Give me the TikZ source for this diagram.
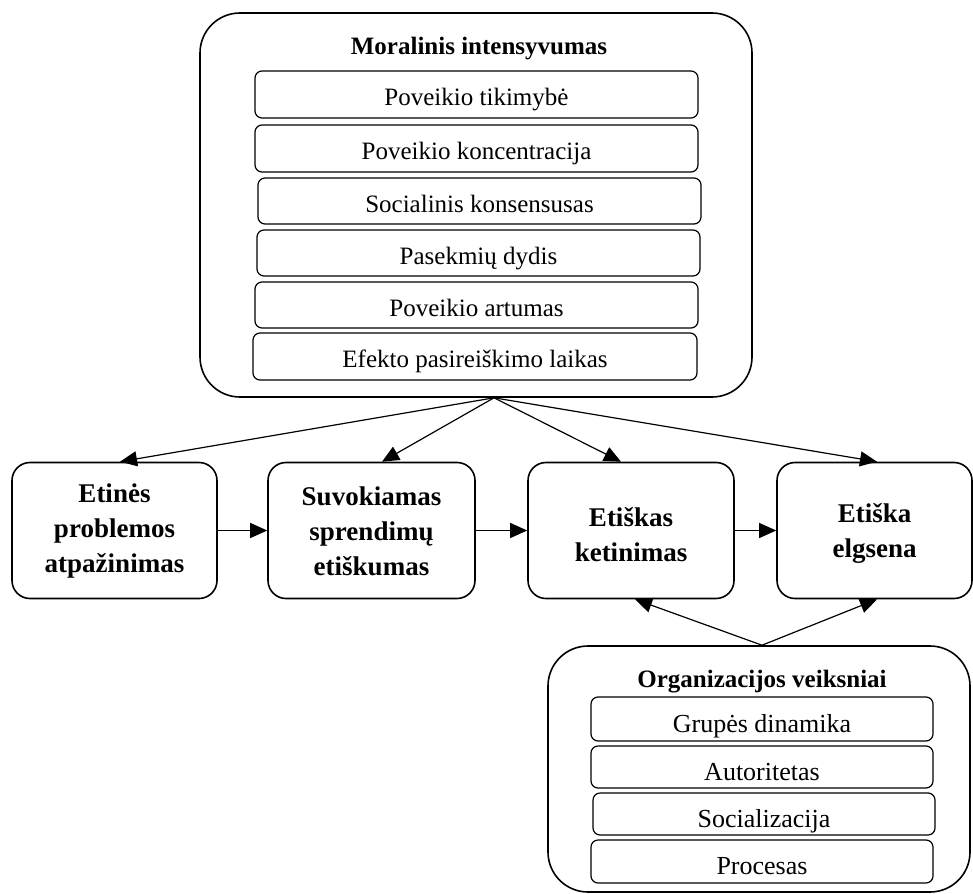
\documentclass[tikz,border=0pt]{standalone}
\usepackage{fontspec}
\setmainfont{Liberation Serif}
\usetikzlibrary{arrows.meta}

\begin{document}
\begin{tikzpicture}[x=1pt,y=-1pt,
  groupbox/.style={draw, line width=1.6pt, rounded corners=40pt, inner sep=0pt},
  grouptitle/.style={font=\fontsize{25}{30}\selectfont\bfseries, inner sep=0pt, anchor=base},
  itembox/.style={draw, line width=1.2pt, rounded corners=7pt, inner sep=0pt,
    minimum width=443pt, minimum height=47pt, text height=22pt, text depth=0pt,
    font=\fontsize{25}{30}\selectfont},
  orgitem/.style={itembox, minimum width=342pt, text height=26pt,
    font=\fontsize{26}{31}\selectfont},
  stagebox/.style={draw, line width=1.6pt, rounded corners=18pt, inner sep=0pt,
    minimum height=136pt},
  stagetext/.style={font=\fontsize{27}{35}\selectfont\bfseries, align=center, inner sep=0pt},
  arr/.style={-{Triangle[length=17pt,width=15pt]}, line width=1.2pt}
]
\useasboundingbox (0,0) rectangle (973,893);

% Moral intensity group
\node[groupbox, minimum width=552pt, minimum height=384pt] (mi) at (476,205) {};
\node[grouptitle] (mititle) at (479,55) {Moralinis intensyvumas};
\node[itembox] (m1) at (476.5,94.5) {Poveikio tikimybė};
\node[itembox] (m2) at (476.5,148.5) {Poveikio koncentracija};
\node[itembox, minimum height=46pt] (m3) at (479.5,201) {Socialinis konsensusas};
\node[itembox, minimum height=46pt] (m4) at (478.5,253) {Pasekmių dydis};
\node[itembox, minimum height=46pt] (m5) at (476.5,305) {Poveikio artumas};
\node[itembox, minimum width=444pt] (m6) at (475,356.5) {Efekto pasireiškimo laikas};

% Decision stages
\node[stagebox, minimum width=205pt] (b1) at (114.5,530.5) {};
\node[stagebox, minimum width=207pt] (b2) at (371.5,530.5) {};
\node[stagebox, minimum width=206pt] (b3) at (631,530.5) {};
\node[stagebox, minimum width=195pt] (b4) at (874.5,530.5) {};
\node[stagetext] (t1) at (114.5,531) {Etinės\\problemos\\atpažinimas};
\node[stagetext] (t2) at (371.5,531.7) {Suvokiamas\\sprendimų\\etiškumas};
\node[stagetext] (t3) at (631,535) {Etiškas\\ketinimas};
\node[stagetext] (t4) at (874.5,533.3) {Etiška\\elgsena};

% Organisational factors group
\node[groupbox, minimum width=422pt, minimum height=246pt] (org) at (759,769) {};
\node[grouptitle] (orgtitle) at (762,687) {Organizacijos veiksniai};
\node[orgitem, minimum height=44pt] (o1) at (762,719) {Grupės dinamika};
\node[orgitem, minimum height=42pt] (o2) at (762,767) {Autoritetas};
\node[orgitem, minimum height=42pt] (o3) at (764,814) {Socializacija};
\node[orgitem, minimum height=43pt] (o4) at (762,861.5) {Procesas};

% Connectors
\coordinate (ms) at ([xshift=18pt]mi.south);
\coordinate (os) at ([xshift=3pt]org.north);
\draw[arr] (ms) -- ([xshift=5.5pt]b1.north);
\draw[arr] (ms) -- ([xshift=10.5pt]b2.north);
\draw[arr] (ms) -- ([xshift=-10pt]b3.north);
\draw[arr] (ms) -- ([xshift=2.5pt]b4.north);
\draw[arr] (b1) -- (b2);
\draw[arr] (b2) -- (b3);
\draw[arr] (b3) -- (b4);
\draw[arr] (os) -- ([xshift=4pt]b3.south);
\draw[arr] (os) -- ([xshift=2.5pt]b4.south);
\end{tikzpicture}
\end{document}
